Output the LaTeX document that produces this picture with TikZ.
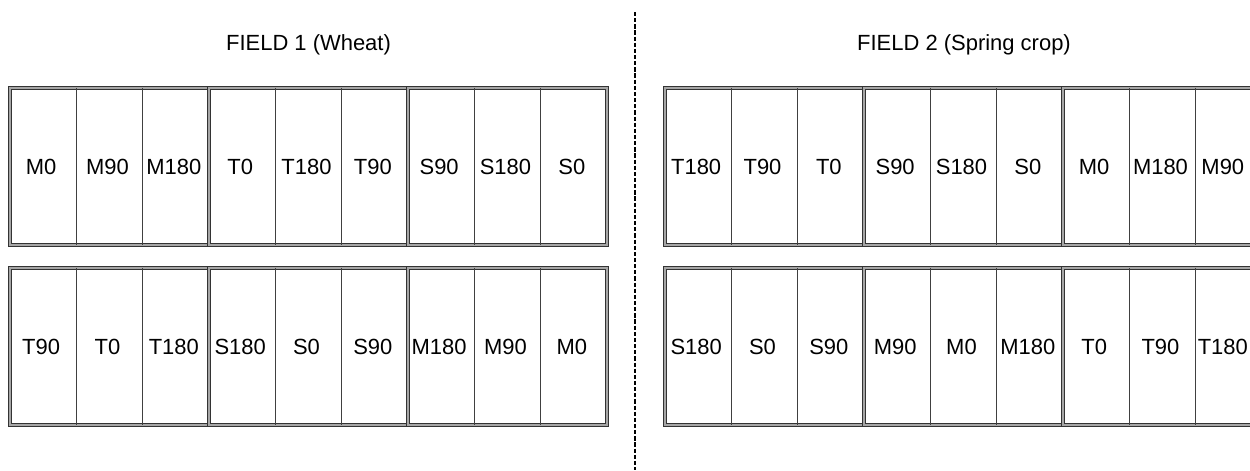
\documentclass[tikz,border=0pt]{standalone}
\usepackage{fontspec}
\setmainfont{Liberation Sans}
\usepackage{tikz}
\usetikzlibrary{positioning}

\tikzset{
  plotframe/.style={draw=black!80,line width=0.55pt,double=black!35,double distance=1.1pt},
  plotline/.style={draw=black!75,line width=0.65pt},
  divider/.style={line width=1.5pt,dash pattern=on 2.4pt off 1.1pt}
}

\begin{document}
\begin{tikzpicture}[x=0.02cm,y=-0.02cm,every node/.style={font=\fontsize{12.5}{15}\selectfont}]
  \clip (0,0) rectangle (1250,470);
  % field titles
  \node (title1) at (308.5,45) {FIELD 1 (Wheat)};
  \node (title2) at (964,45) {FIELD 2 (Spring crop)};
  % divider between the fields
  \coordinate (divtop) at (635,12);
  \coordinate (divbot) at (635,470);
  \draw[divider] (divtop) -- (divbot);
  % blocks: three groups of three plots
  \foreach \x in {10,665}
    \foreach \y in {88,268} {
      \foreach \g in {0,1,2}
        \draw[plotframe] ({\x+3*\g*66.33},\y) rectangle ({\x+3*(\g+1)*66.33},{\y+157});
      \foreach \c in {1,2,4,5,7,8}
        \draw[plotline] ({\x+\c*66.33},\y) -- ({\x+\c*66.33},{\y+157});
    }
  % plot labels
  \foreach \lab [count=\c] in {M0,M90,M180,T0,T180,T90,S90,S180,S0}
    \node (pa\c) at ({8+(\c-0.5)*66.33},166.5) {\lab};
  \foreach \lab [count=\c] in {T90,T0,T180,S180,S0,S90,M180,M90,M0}
    \node (pb\c) at ({8+(\c-0.5)*66.33},346.5) {\lab};
  \foreach \lab [count=\c] in {T180,T90,T0,S90,S180,S0,M0,M180,M90}
    \node (pc\c) at ({663+(\c-0.5)*66.33-(\c==9)*4},166.5) {\lab};
  \foreach \lab [count=\c] in {S180,S0,S90,M90,M0,M180,T0,T90,T180}
    \node (pd\c) at ({663+(\c-0.5)*66.33-(\c==9)*4},346.5) {\lab};
\end{tikzpicture}
\end{document}
